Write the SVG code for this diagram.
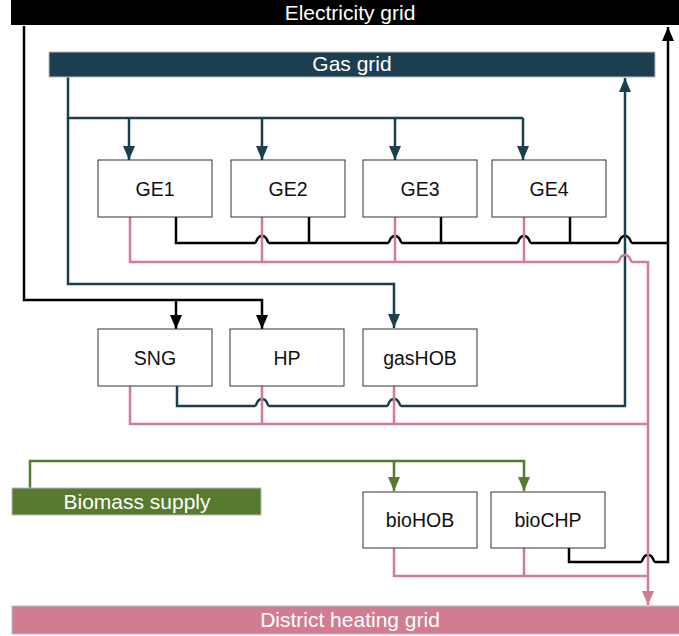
<svg xmlns="http://www.w3.org/2000/svg" width="679" height="636" viewBox="0 0 679 636">
<style>
.box{fill:#fff;stroke:#333;stroke-width:1}
.bt{font-family:"Liberation Sans",Arial,sans-serif;font-size:19.5px;fill:#111;text-anchor:middle}
.bar{stroke:#bbb;stroke-width:1}
.bart{font-family:"Liberation Sans",Arial,sans-serif;font-size:21px;fill:#fff;text-anchor:middle}
.e{fill:none;stroke:#000;stroke-width:2.5}
.g{fill:none;stroke:#1b3e50;stroke-width:2.5}
.h{fill:none;stroke:#d17c91;stroke-width:2.5}
.b{fill:none;stroke:#567a2e;stroke-width:2.5}
</style>
<defs>
<marker id="ae" viewBox="0 0 14 12" refX="14" refY="6" markerWidth="14" markerHeight="12" markerUnits="userSpaceOnUse" orient="auto"><path d="M0 0L14 6L0 12z" fill="#000"/></marker>
<marker id="ag" viewBox="0 0 14 12" refX="14" refY="6" markerWidth="14" markerHeight="12" markerUnits="userSpaceOnUse" orient="auto"><path d="M0 0L14 6L0 12z" fill="#1b3e50"/></marker>
<marker id="ah" viewBox="0 0 14 12" refX="14" refY="6" markerWidth="14" markerHeight="12" markerUnits="userSpaceOnUse" orient="auto"><path d="M0 0L14 6L0 12z" fill="#d17c91"/></marker>
<marker id="ab" viewBox="0 0 14 12" refX="14" refY="6" markerWidth="14" markerHeight="12" markerUnits="userSpaceOnUse" orient="auto"><path d="M0 0L14 6L0 12z" fill="#567a2e"/></marker>
</defs>

<g id="connectors">
<!-- electricity -->
<path class="e" d="M24 26V300H262V329" marker-end="url(#ae)"/>
<path class="e" d="M176 300V329" marker-end="url(#ae)"/>
<path class="e" d="M176 217V243H255C257 243 256 236 262 236C268 236 267 243 269 243H388C390 243 389 236 395 236C401 236 400 243 402 243H517C519 243 518 236 524 236C530 236 529 243 531 243H618C620 243 619 236 625 236C631 236 630 243 632 243H668"/>
<path class="e" d="M309 217V243M441 217V243M570 217V243"/>
<path class="e" d="M569 548V562H641C643 562 642 555 648 555C654 555 653 562 655 562H668V27" marker-end="url(#ae)"/>
<!-- gas -->
<path class="g" d="M68 77V118H523"/>
<path class="g" d="M129 118V160" marker-end="url(#ag)"/>
<path class="g" d="M262 118V160" marker-end="url(#ag)"/>
<path class="g" d="M395 118V160" marker-end="url(#ag)"/>
<path class="g" d="M523 118V160" marker-end="url(#ag)"/>
<path class="g" d="M68 118V284H394V328" marker-end="url(#ag)"/>
<path class="g" d="M177 386V406H255C257 406 256 399 262 399C268 399 267 406 269 406H387C389 406 388 399 394 399C400 399 399 406 401 406H625V78" marker-end="url(#ag)"/>
<!-- heat -->
<path class="h" d="M130 217V262H618C620 262 619 255 625 255C631 255 630 262 632 262H648V605" marker-end="url(#ah)"/>
<path class="h" d="M262 217V262M395 217V262M524 217V262"/>
<path class="h" d="M130 386V424H648M262 386V424M394 386V424"/>
<path class="h" d="M394 548V576H648M524 548V576"/>
<!-- biomass -->
<path class="b" d="M30 488V461H524V491" marker-end="url(#ab)"/>
<path class="b" d="M394 461V491" marker-end="url(#ab)"/>
</g>

<g id="electricity-grid"><rect x="11" y="-1" width="669" height="26" fill="#000"/><text class="bart" x="350" y="20">Electricity grid</text></g>
<g id="gas-grid"><rect class="bar" x="49" y="52" width="606" height="25" fill="#1b3e50"/><text class="bart" x="352" y="71">Gas grid</text></g>
<g id="biomass-supply"><rect class="bar" x="12" y="488" width="249" height="27" fill="#567a2e"/><text class="bart" x="137" y="509">Biomass supply</text></g>
<g id="district-heating-grid"><rect class="bar" x="12" y="606" width="668" height="28" fill="#d17c91"/><text class="bart" x="350" y="627">District heating grid</text></g>

<g id="GE1"><rect class="box" x="98" y="160" width="114" height="57"/><text class="bt" x="155" y="196">GE1</text></g>
<g id="GE2"><rect class="box" x="231" y="160" width="114" height="57"/><text class="bt" x="288" y="196">GE2</text></g>
<g id="GE3"><rect class="box" x="363" y="160" width="114" height="57"/><text class="bt" x="420" y="196">GE3</text></g>
<g id="GE4"><rect class="box" x="492" y="160" width="114" height="57"/><text class="bt" x="549" y="196">GE4</text></g>
<g id="SNG"><rect class="box" x="98" y="329" width="114" height="57"/><text class="bt" x="155" y="365">SNG</text></g>
<g id="HP"><rect class="box" x="230" y="329" width="114" height="57"/><text class="bt" x="287" y="365">HP</text></g>
<g id="gasHOB"><rect class="box" x="363" y="329" width="114" height="57"/><text class="bt" x="420" y="365">gasHOB</text></g>
<g id="bioHOB"><rect class="box" x="363" y="492" width="114" height="56"/><text class="bt" x="420" y="527">bioHOB</text></g>
<g id="bioCHP"><rect class="box" x="491" y="492" width="114" height="56"/><text class="bt" x="548" y="527">bioCHP</text></g>
</svg>
